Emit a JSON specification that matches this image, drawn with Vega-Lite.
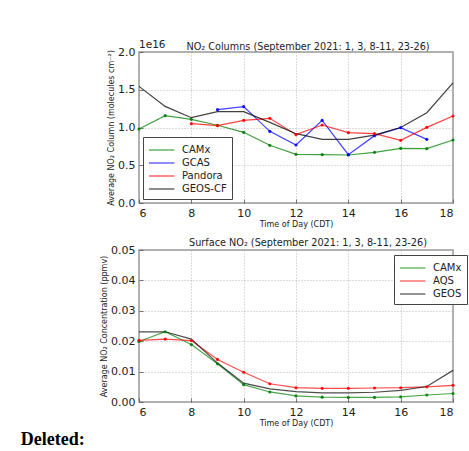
{
  "$schema": "https://vega.github.io/schema/vega-lite/v6.json",
  "padding": {"left": 20, "top": 39, "right": 2, "bottom": 2},
  "background": "white",
  "config": {
    "font": "DejaVu Sans",
    "view": {"stroke": "#999", "strokeWidth": 1.5},
    "axis": {"grid": true, "gridColor": "#aaa", "gridDash": [1, 2], "gridWidth": 0.8, "domain": false, "ticks": true, "tickSize": -4, "tickColor": "#555", "tickWidth": 0.8, "labelFontSize": 11, "labelColor": "#222", "titleFontSize": 8, "titleFontWeight": "normal", "titleColor": "#222", "labelPadding": 8, "titlePadding": 2},
    "title": {"fontSize": 9.7, "fontWeight": "normal", "color": "#222"},
    "legend": {"fillColor": "white", "strokeColor": "#444", "padding": 5, "labelFontSize": 10, "labelColor": "#222", "symbolType": "M-1,0L2.6,0", "symbolSize": 200, "symbolStrokeWidth": 1.2, "labelOffset": 18, "rowPadding": 0, "title": null},
    "concat": {"spacing": 8}
  },
  "datasets": {
    "columns": [
      {"hour": 6, "series": "CAMx", "value": 9.8e15},
      {"hour": 7, "series": "CAMx", "value": 1.157e16},
      {"hour": 8, "series": "CAMx", "value": 1.108e16},
      {"hour": 9, "series": "CAMx", "value": 1.03e16},
      {"hour": 10, "series": "CAMx", "value": 9.36e15},
      {"hour": 11, "series": "CAMx", "value": 7.64e15},
      {"hour": 12, "series": "CAMx", "value": 6.45e15},
      {"hour": 13, "series": "CAMx", "value": 6.4e15},
      {"hour": 14, "series": "CAMx", "value": 6.36e15},
      {"hour": 15, "series": "CAMx", "value": 6.71e15},
      {"hour": 16, "series": "CAMx", "value": 7.24e15},
      {"hour": 17, "series": "CAMx", "value": 7.2e15},
      {"hour": 18, "series": "CAMx", "value": 8.34e15},
      {"hour": 9, "series": "GCAS", "value": 1.236e16},
      {"hour": 10, "series": "GCAS", "value": 1.276e16},
      {"hour": 11, "series": "GCAS", "value": 9.49e15},
      {"hour": 12, "series": "GCAS", "value": 7.68e15},
      {"hour": 13, "series": "GCAS", "value": 1.095e16},
      {"hour": 14, "series": "GCAS", "value": 6.4e15},
      {"hour": 15, "series": "GCAS", "value": 8.92e15},
      {"hour": 16, "series": "GCAS", "value": 9.98e15},
      {"hour": 17, "series": "GCAS", "value": 8.43e15},
      {"hour": 8, "series": "Pandora", "value": 1.051e16},
      {"hour": 9, "series": "Pandora", "value": 1.024e16},
      {"hour": 10, "series": "Pandora", "value": 1.095e16},
      {"hour": 11, "series": "Pandora", "value": 1.121e16},
      {"hour": 12, "series": "Pandora", "value": 9.05e15},
      {"hour": 13, "series": "Pandora", "value": 1.033e16},
      {"hour": 14, "series": "Pandora", "value": 9.32e15},
      {"hour": 15, "series": "Pandora", "value": 9.18e15},
      {"hour": 16, "series": "Pandora", "value": 8.3e15},
      {"hour": 17, "series": "Pandora", "value": 1.002e16},
      {"hour": 18, "series": "Pandora", "value": 1.152e16},
      {"hour": 6, "series": "GEOS-CF", "value": 1.545e16},
      {"hour": 7, "series": "GEOS-CF", "value": 1.28e16},
      {"hour": 8, "series": "GEOS-CF", "value": 1.13e16},
      {"hour": 9, "series": "GEOS-CF", "value": 1.21e16},
      {"hour": 10, "series": "GEOS-CF", "value": 1.21e16},
      {"hour": 11, "series": "GEOS-CF", "value": 1.068e16},
      {"hour": 12, "series": "GEOS-CF", "value": 9.18e15},
      {"hour": 13, "series": "GEOS-CF", "value": 8.43e15},
      {"hour": 14, "series": "GEOS-CF", "value": 8.43e15},
      {"hour": 15, "series": "GEOS-CF", "value": 9.0e15},
      {"hour": 16, "series": "GEOS-CF", "value": 1.0e16},
      {"hour": 17, "series": "GEOS-CF", "value": 1.196e16},
      {"hour": 18, "series": "GEOS-CF", "value": 1.59e16}
    ],
    "surface": [
      {"hour": 6, "series": "CAMx", "value": 0.0199},
      {"hour": 7, "series": "CAMx", "value": 0.0231},
      {"hour": 8, "series": "CAMx", "value": 0.0189},
      {"hour": 9, "series": "CAMx", "value": 0.01255},
      {"hour": 10, "series": "CAMx", "value": 0.0057},
      {"hour": 11, "series": "CAMx", "value": 0.0033},
      {"hour": 12, "series": "CAMx", "value": 0.002},
      {"hour": 13, "series": "CAMx", "value": 0.0016},
      {"hour": 14, "series": "CAMx", "value": 0.0015},
      {"hour": 15, "series": "CAMx", "value": 0.0015},
      {"hour": 16, "series": "CAMx", "value": 0.0017},
      {"hour": 17, "series": "CAMx", "value": 0.0023},
      {"hour": 18, "series": "CAMx", "value": 0.0028},
      {"hour": 6, "series": "AQS", "value": 0.0203},
      {"hour": 7, "series": "AQS", "value": 0.0207},
      {"hour": 8, "series": "AQS", "value": 0.0202},
      {"hour": 9, "series": "AQS", "value": 0.014},
      {"hour": 10, "series": "AQS", "value": 0.0098},
      {"hour": 11, "series": "AQS", "value": 0.006},
      {"hour": 12, "series": "AQS", "value": 0.0047},
      {"hour": 13, "series": "AQS", "value": 0.0045},
      {"hour": 14, "series": "AQS", "value": 0.0045},
      {"hour": 15, "series": "AQS", "value": 0.0046},
      {"hour": 16, "series": "AQS", "value": 0.0047},
      {"hour": 17, "series": "AQS", "value": 0.005},
      {"hour": 18, "series": "AQS", "value": 0.0055},
      {"hour": 6, "series": "GEOS", "value": 0.0231},
      {"hour": 7, "series": "GEOS", "value": 0.0231},
      {"hour": 8, "series": "GEOS", "value": 0.0207},
      {"hour": 9, "series": "GEOS", "value": 0.0128},
      {"hour": 10, "series": "GEOS", "value": 0.0062},
      {"hour": 11, "series": "GEOS", "value": 0.0043},
      {"hour": 12, "series": "GEOS", "value": 0.0034},
      {"hour": 13, "series": "GEOS", "value": 0.003},
      {"hour": 14, "series": "GEOS", "value": 0.003},
      {"hour": 15, "series": "GEOS", "value": 0.0032},
      {"hour": 16, "series": "GEOS", "value": 0.0038},
      {"hour": 17, "series": "GEOS", "value": 0.0051},
      {"hour": 18, "series": "GEOS", "value": 0.0104}
    ],
    "exponent": [{"hour": 6, "value": 2e16, "label": "1e16"}]
  },
  "title": {"text": "Deleted:", "orient": "bottom", "anchor": "start", "font": "Liberation Serif", "fontWeight": "bold", "fontSize": 18, "color": "black", "dx": -79, "offset": 3},
  "vconcat": [
    {
      "width": 314,
      "height": 151,
      "title": {"text": "NO₂ Columns (September 2021: 1, 3, 8-11, 23-26)", "dx": 12, "offset": -12},
      "encoding": {
        "x": {"field": "hour", "type": "quantitative", "scale": {"domain": [6, 18]}, "axis": {"values": [6, 8, 10, 12, 14, 16, 18], "title": "Time of Day (CDT)"}},
        "y": {"field": "value", "type": "quantitative", "scale": {"domain": [0, 2e16]}, "axis": {"values": [0, 5e15, 1e16, 1.5e16, 2e16], "labelExpr": "format(datum.value / 1e16, '.1f')", "title": "Average NO₂ Column (molecules cm⁻²)"}}
      },
      "layer": [
        {
          "data": {"name": "columns"},
          "mark": {"type": "line", "strokeWidth": 1.2, "opacity": 0.75},
          "encoding": {
            "color": {"field": "series", "type": "nominal", "scale": {"domain": ["CAMx", "GCAS", "Pandora", "GEOS-CF"], "range": ["#008000", "#0000ff", "#ff0000", "#000000"]}, "legend": {"orient": "bottom-left", "offset": 4, "encode": {"symbols": {"update": {"shape": {"signal": "datum.value == 'GEOS-CF' ? 'M-1,0L2.6,0' : 'M-1,0L2.6,0M0.55,0m-0.2,0a0.2,0.2 0 1,0 0.4,0a0.2,0.2 0 1,0 -0.4,0'"}}}}}}
          }
        },
        {
          "data": {"name": "columns"},
          "transform": [{"filter": "datum.series != 'GEOS-CF'"}],
          "mark": {"type": "point", "filled": true, "size": 10, "opacity": 0.9},
          "encoding": {
            "color": {"field": "series", "type": "nominal", "scale": {"domain": ["CAMx", "GCAS", "Pandora", "GEOS-CF"], "range": ["#008000", "#0000ff", "#ff0000", "#000000"]}, "legend": {"orient": "bottom-left", "offset": 4, "encode": {"symbols": {"update": {"shape": {"signal": "datum.value == 'GEOS-CF' ? 'M-1,0L2.6,0' : 'M-1,0L2.6,0M0.55,0m-0.2,0a0.2,0.2 0 1,0 0.4,0a0.2,0.2 0 1,0 -0.4,0'"}}}}}}
          }
        },
        {
          "data": {"name": "exponent"},
          "mark": {"type": "text", "align": "left", "baseline": "bottom", "dy": -2, "fontSize": 10.5, "color": "#222"},
          "encoding": {
            "text": {"field": "label"}
          }
        }
      ]
    },
    {
      "width": 314,
      "height": 152,
      "title": {"text": "Surface NO₂ (September 2021: 1, 3, 8-11, 23-26)", "dx": 12, "offset": -4},
      "data": {"name": "surface"},
      "encoding": {
        "x": {"field": "hour", "type": "quantitative", "scale": {"domain": [6, 18]}, "axis": {"values": [6, 8, 10, 12, 14, 16, 18], "title": "Time of Day (CDT)"}},
        "y": {"field": "value", "type": "quantitative", "scale": {"domain": [0, 0.05]}, "axis": {"values": [0, 0.01, 0.02, 0.03, 0.04, 0.05], "format": ".2f", "title": "Average NO₂ Concentration (ppmv)"}},
        "color": {"field": "series", "type": "nominal", "scale": {"domain": ["CAMx", "AQS", "GEOS"], "range": ["#008000", "#ff0000", "#000000"]}, "legend": {"orient": "none", "legendX": 255, "legendY": 5, "encode": {"symbols": {"update": {"shape": {"signal": "datum.value == 'GEOS' ? 'M-1,0L2.6,0' : 'M-1,0L2.6,0M0.55,0m-0.2,0a0.2,0.2 0 1,0 0.4,0a0.2,0.2 0 1,0 -0.4,0'"}}}}}}
      },
      "layer": [
        {
          "mark": {"type": "line", "strokeWidth": 1.2, "opacity": 0.7}
        },
        {
          "transform": [{"filter": "datum.series != 'GEOS'"}],
          "mark": {"type": "point", "filled": true, "size": 10, "opacity": 0.9}
        }
      ]
    }
  ],
  "resolve": {"scale": {"color": "independent"}}
}
